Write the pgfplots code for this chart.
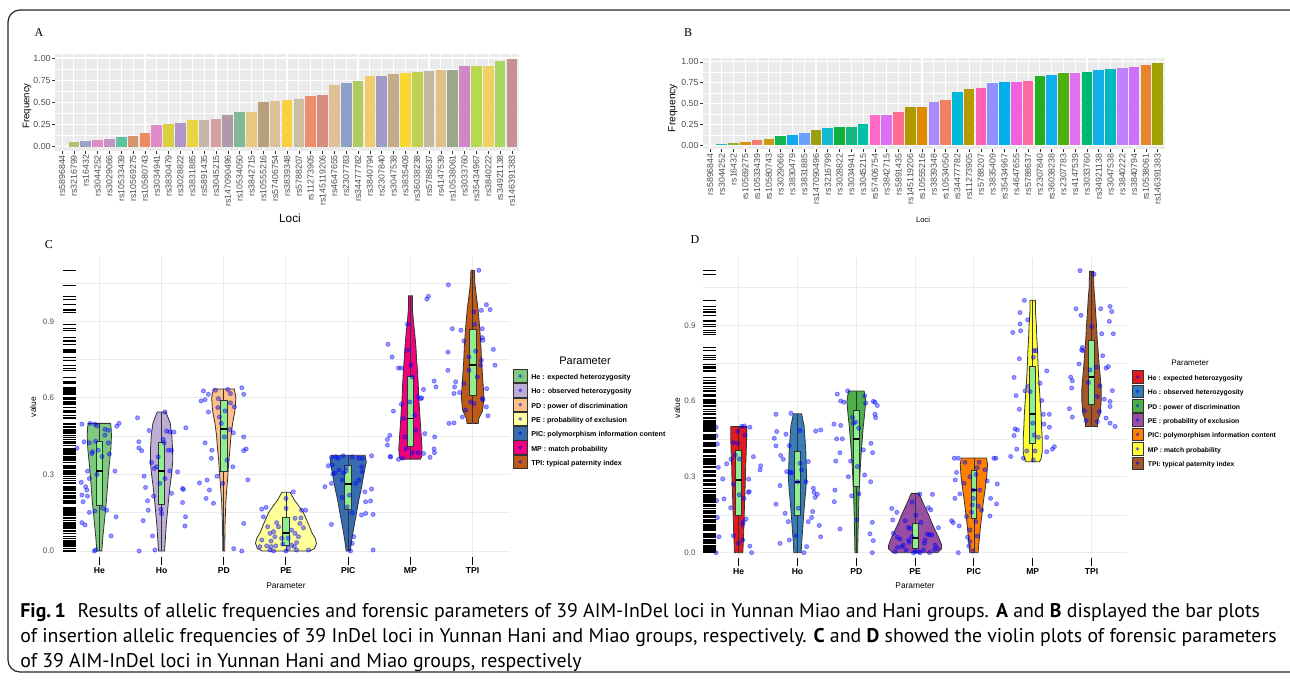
\documentclass[border=0pt]{standalone}
\usepackage{fontspec}
\setmainfont{Liberation Sans}
\newfontfamily\serif{Liberation Serif}
\newfontfamily\capfont{PT Sans}
\usepackage{pgfplots}
\usepackage{pgfplotstable}
\pgfplotsset{compat=1.18}
\usepgfplotslibrary{statistics}
\usetikzlibrary{plotmarks}

\newcommand\fs[1]{\fontsize{#1}{#1}\selectfont}

\definecolor{grey20}{HTML}{333333}
\definecolor{grey30}{HTML}{4D4D4D}
\definecolor{grey92}{HTML}{EBEBEB}
\definecolor{panelgrey}{HTML}{EBEBEB}
\definecolor{boxgreen}{HTML}{90EE90}
\definecolor{ptblue}{HTML}{0000FF}
% Accent palette (C)
\definecolor{accA}{HTML}{7FC97F}
\definecolor{accB}{HTML}{BEAED4}
\definecolor{accC}{HTML}{FDC086}
\definecolor{accD}{HTML}{FFFF99}
\definecolor{accE}{HTML}{386CB0}
\definecolor{accF}{HTML}{F0027F}
\definecolor{accG}{HTML}{BF5B17}
% Set1 palette (D)
\definecolor{setA}{HTML}{E41A1C}
\definecolor{setB}{HTML}{377EB8}
\definecolor{setC}{HTML}{4DAF4A}
\definecolor{setD}{HTML}{984EA3}
\definecolor{setE}{HTML}{FF7F00}
\definecolor{setF}{HTML}{FFFF33}
\definecolor{setG}{HTML}{A65628}
% bar colours, panel A
\definecolor{a2}{HTML}{B8C070}\definecolor{a3}{HTML}{9FA0C8}\definecolor{a4}{HTML}{E08BC0}
\definecolor{a5}{HTML}{C593C8}\definecolor{a6}{HTML}{5DC4A0}\definecolor{a7}{HTML}{D6956A}
\definecolor{a8}{HTML}{EE8A60}\definecolor{a9}{HTML}{E388C8}\definecolor{a10}{HTML}{D8D040}
\definecolor{a11}{HTML}{B294C8}\definecolor{a12}{HTML}{EAD540}\definecolor{a13}{HTML}{C4B8A8}
\definecolor{a14}{HTML}{D4A0A0}\definecolor{a15}{HTML}{B09AA8}\definecolor{a16}{HTML}{80B898}
\definecolor{a17}{HTML}{E8C880}\definecolor{a18}{HTML}{B8A07C}\definecolor{a19}{HTML}{DCC098}
\definecolor{a20}{HTML}{F8D040}\definecolor{a21}{HTML}{CCBEA0}\definecolor{a22}{HTML}{EE8C6C}
\definecolor{a23}{HTML}{D88C80}\definecolor{a24}{HTML}{E0C096}\definecolor{a25}{HTML}{8FA0C8}
\definecolor{a26}{HTML}{B0CC60}\definecolor{a27}{HTML}{F0CC6C}\definecolor{a28}{HTML}{A09CC8}
\definecolor{a29}{HTML}{C4AC88}\definecolor{a30}{HTML}{F8D830}\definecolor{a31}{HTML}{C0D050}
\definecolor{a32}{HTML}{C4B8A0}\definecolor{a33}{HTML}{E0C088}\definecolor{a34}{HTML}{98A888}
\definecolor{a35}{HTML}{D088C4}\definecolor{a36}{HTML}{B8D850}\definecolor{a37}{HTML}{F0D060}
\definecolor{a38}{HTML}{A8D860}\definecolor{a39}{HTML}{C89090}
% bar colours, panel B
\definecolor{b2}{HTML}{1CBDB0}\definecolor{b3}{HTML}{8BB22A}\definecolor{b4}{HTML}{D89000}
\definecolor{b5}{HTML}{F37B70}\definecolor{b6}{HTML}{CC9A10}\definecolor{b7}{HTML}{10B850}
\definecolor{b8}{HTML}{10A8F0}\definecolor{b9}{HTML}{6AA0FF}\definecolor{b10}{HTML}{9AA010}
\definecolor{b11}{HTML}{10B8D0}\definecolor{b12}{HTML}{10B040}\definecolor{b13}{HTML}{10B880}
\definecolor{b14}{HTML}{00C0A8}\definecolor{b15}{HTML}{FF68C8}\definecolor{b16}{HTML}{DC70F0}
\definecolor{b17}{HTML}{FF6C90}\definecolor{b18}{HTML}{B09A00}\definecolor{b19}{HTML}{E08A00}
\definecolor{b20}{HTML}{A88CFF}\definecolor{b21}{HTML}{F08060}\definecolor{b22}{HTML}{00B8D8}
\definecolor{b23}{HTML}{B89A00}\definecolor{b24}{HTML}{FF60B0}\definecolor{b25}{HTML}{9090FF}
\definecolor{b26}{HTML}{00B0F0}\definecolor{b27}{HTML}{F060E0}\definecolor{b28}{HTML}{FF6AA0}
\definecolor{b29}{HTML}{20B020}\definecolor{b30}{HTML}{10B0F0}\definecolor{b31}{HTML}{50B010}
\definecolor{b32}{HTML}{E070F0}\definecolor{b33}{HTML}{00B870}\definecolor{b34}{HTML}{10B0E8}
\definecolor{b35}{HTML}{00B8C0}\definecolor{b36}{HTML}{C080FF}\definecolor{b37}{HTML}{D070F8}
\definecolor{b38}{HTML}{E8842C}\definecolor{b39}{HTML}{A0A000}

\newcommand\bb[3]{\addplot[fill=#3, draw=none] coordinates {(#1,#2)};}

\pgfplotsset{
  barpanel/.style={
    scale only axis, anchor=south west,
    xmin=0.4, xmax=39.6, ymin=-0.05, ymax=1.045,
    ybar, bar width=0.9, bar shift=0pt,
    axis background/.style={fill=panelgrey},
    grid=both,
    xtick={1,...,39},
    ytick={0,0.25,0.5,0.75,1}, yticklabels={0.00,0.25,0.50,0.75,1.00},
    minor ytick={0.125,0.375,0.625,0.875},
    major grid style={draw=white, line width=0.55pt},
    minor grid style={draw=white, line width=0.28pt},
    axis line style={draw=none},
    tick align=outside, major tick length=1.4pt, minor tick length=0pt,
    tick style={draw=grey20, line width=0.3pt},
    xtick pos=left, ytick pos=left,
    x tick label style={rotate=90, anchor=east, font=\fs{4.4}, text=grey30, inner sep=0.4pt},
    y tick label style={font=\fs{4.4}, text=grey30, inner sep=0.6pt},
  },
  violinpanel/.style={
    scale only axis, anchor=south west,
    xmin=0.4, xmax=7.6,
    xtick={1,...,7}, xticklabels={He,Ho,PD,PE,PIC,MP,TPI},
    ytick={0,0.3,0.6,0.9}, yticklabels={0.0,0.3,0.6,0.9},
    minor ytick={0.15,0.45,0.75,1.05},
    grid=both,
    major grid style={draw=grey92, line width=0.5pt},
    minor grid style={draw=grey92, line width=0.3pt},
    axis line style={draw=none},
    tick align=outside, major tick length=3.75pt, minor tick length=0pt,
    xtick style={draw=black, line width=0.5pt},
    ytick style={draw=none},
    xtick pos=left, ytick pos=left,
    x tick label style={font=\bfseries\fs{4.3}, inner sep=0pt, yshift=-1.2pt},
    y tick label style={font=\fs{4}, text=grey30, inner sep=0pt},
    boxplot/draw direction=y,
    legend cell align=left,
  },
  vio/.style={draw=grey20, line width=0.4pt, forget plot},
  bxs/.style={forget plot, fill=boxgreen, draw=grey20, line width=0.4pt, solid,
    boxplot/whisker extend=0, boxplot/every median/.style={line width=0.9pt, draw=black}},
  bx/.style n args={6}{boxplot prepared={draw position=#1, lower whisker=#2,
    lower quartile=#3, median=#4, upper quartile=#5, upper whisker=#6}},
  jitpts/.style={only marks, mark=*, mark size=1.05pt, forget plot, color=ptblue,
    mark options={draw=none, fill=ptblue, opacity=0.4, solid}},
  rugmarks/.style={only marks, mark=-, mark size=#1, forget plot, color=black,
    mark options={draw=black, line width=0.25pt, solid}},
  ckey/.style={legend image code/.code={
    \draw[draw=grey20, fill=#1, line width=0.3pt] (0pt,-2.1pt) rectangle (7pt,4.65pt);
    \fill[ptblue, opacity=0.4] (3.5pt,1.28pt) circle (0.75pt);}},
  dkey/.style={legend image code/.code={
    \draw[draw=grey20, fill=#1, line width=0.3pt] (0pt,-1.95pt) rectangle (5.5pt,4.4pt);
    \fill[ptblue, opacity=0.4] (2.75pt,1.22pt) circle (0.7pt);}},
}

% violin outlines (half widths w at value y)
\pgfplotstableread[row sep=\\]{w y\\ 0 0\\ 0.04 0\\ 0.055 0.05\\ 0.075 0.1\\ 0.095 0.15\\ 0.115 0.2\\ 0.13 0.25\\ 0.145 0.3\\ 0.165 0.35\\ 0.185 0.4\\ 0.195 0.45\\ 0.19 0.48\\ 0.18 0.5\\ 0 0.5\\}\vCHe
\pgfplotstableread[row sep=\\]{w y\\ 0 0\\ 0.048 0\\ 0.062 0.05\\ 0.075 0.1\\ 0.094 0.15\\ 0.113 0.2\\ 0.134 0.25\\ 0.16 0.3\\ 0.18 0.35\\ 0.177 0.4\\ 0.166 0.45\\ 0.14 0.5\\ 0.07 0.545\\ 0 0.545\\}\vCHo
\pgfplotstableread[row sep=\\]{w y\\ 0 0\\ 0.015 0\\ 0.02 0.1\\ 0.035 0.2\\ 0.067 0.3\\ 0.08 0.35\\ 0.1 0.4\\ 0.115 0.45\\ 0.142 0.5\\ 0.18 0.55\\ 0.195 0.6\\ 0.17 0.635\\ 0 0.635\\}\vCPD
\pgfplotstableread[row sep=\\]{w y\\ 0 0\\ 0.38 0\\ 0.46 0.01\\ 0.49 0.03\\ 0.47 0.05\\ 0.42 0.07\\ 0.37 0.1\\ 0.335 0.12\\ 0.28 0.15\\ 0.225 0.17\\ 0.134 0.2\\ 0.067 0.23\\ 0 0.23\\}\vCPE
\pgfplotstableread[row sep=\\]{w y\\ 0 0\\ 0.032 0\\ 0.06 0.05\\ 0.096 0.1\\ 0.134 0.15\\ 0.17 0.2\\ 0.215 0.25\\ 0.25 0.3\\ 0.29 0.35\\ 0.27 0.375\\ 0 0.375\\}\vCPIC
\pgfplotstableread[row sep=\\]{w y\\ 0 0.36\\ 0.16 0.36\\ 0.18 0.37\\ 0.187 0.4\\ 0.174 0.45\\ 0.16 0.5\\ 0.147 0.55\\ 0.134 0.6\\ 0.126 0.65\\ 0.115 0.7\\ 0.1 0.75\\ 0.088 0.8\\ 0.07 0.85\\ 0.048 0.9\\ 0.032 0.95\\ 0.032 1.0\\ 0 1.0\\}\vCMP
\pgfplotstableread[row sep=\\]{w y\\ 0 0.5\\ 0.09 0.5\\ 0.1 0.52\\ 0.16 0.55\\ 0.182 0.6\\ 0.169 0.65\\ 0.155 0.7\\ 0.142 0.75\\ 0.134 0.8\\ 0.12 0.85\\ 0.104 0.9\\ 0.086 0.95\\ 0.059 1.0\\ 0.035 1.05\\ 0.027 1.1\\ 0 1.1\\}\vCTPI
\pgfplotstableread[row sep=\\]{w y\\ 0 0\\ 0.07 0\\ 0.08 0.05\\ 0.088 0.1\\ 0.094 0.15\\ 0.1 0.2\\ 0.108 0.25\\ 0.115 0.3\\ 0.12 0.35\\ 0.128 0.4\\ 0.135 0.45\\ 0.135 0.5\\ 0 0.5\\}\vDHe
\pgfplotstableread[row sep=\\]{w y\\ 0 0\\ 0.062 0\\ 0.074 0.05\\ 0.09 0.1\\ 0.105 0.15\\ 0.122 0.2\\ 0.142 0.25\\ 0.156 0.3\\ 0.147 0.35\\ 0.142 0.4\\ 0.128 0.45\\ 0.113 0.5\\ 0.07 0.55\\ 0 0.55\\}\vDHo
\pgfplotstableread[row sep=\\]{w y\\ 0 0\\ 0.023 0\\ 0.031 0.1\\ 0.042 0.2\\ 0.06 0.3\\ 0.071 0.35\\ 0.085 0.4\\ 0.102 0.45\\ 0.119 0.5\\ 0.142 0.55\\ 0.16 0.6\\ 0.133 0.64\\ 0 0.64\\}\vDPD
\pgfplotstableread[row sep=\\]{w y\\ 0 0\\ 0.38 0\\ 0.45 0.015\\ 0.45 0.03\\ 0.42 0.05\\ 0.38 0.07\\ 0.32 0.1\\ 0.28 0.12\\ 0.23 0.15\\ 0.19 0.17\\ 0.13 0.2\\ 0.065 0.235\\ 0 0.235\\}\vDPE
\pgfplotstableread[row sep=\\]{w y\\ 0 0\\ 0.07 0\\ 0.09 0.05\\ 0.11 0.1\\ 0.136 0.15\\ 0.16 0.2\\ 0.19 0.25\\ 0.218 0.3\\ 0.232 0.35\\ 0.215 0.375\\ 0 0.375\\}\vDPIC
\pgfplotstableread[row sep=\\]{w y\\ 0 0.36\\ 0.113 0.36\\ 0.14 0.37\\ 0.162 0.4\\ 0.162 0.45\\ 0.15 0.5\\ 0.142 0.55\\ 0.128 0.6\\ 0.113 0.65\\ 0.1 0.7\\ 0.09 0.75\\ 0.082 0.8\\ 0.07 0.85\\ 0.062 0.9\\ 0.048 0.95\\ 0.045 1.0\\ 0 1.0\\}\vDMP
\pgfplotstableread[row sep=\\]{w y\\ 0 0.5\\ 0.1 0.5\\ 0.1 0.52\\ 0.147 0.55\\ 0.164 0.6\\ 0.164 0.65\\ 0.147 0.7\\ 0.128 0.75\\ 0.113 0.8\\ 0.096 0.85\\ 0.085 0.9\\ 0.07 0.95\\ 0.057 1.0\\ 0.04 1.05\\ 0.034 1.114\\ 0 1.114\\}\vDTPI

% jittered points: group g, offset o, value v
\pgfplotstableread[row sep=\\]{g o v\\
1 -0.28 0.497\\ 1 -0.15 0.50\\ 1 -0.07 0.497\\ 1 -0.04 0.49\\ 1 0.09 0.477\\ 1 0.145 0.473\\ 1 0.28 0.489\\ 1 0.316 0.50\\
1 -0.246 0.428\\ 1 -0.16 0.424\\ 1 -0.06 0.43\\ 1 -0.11 0.389\\ 1 -0.12 0.382\\ 1 -0.016 0.395\\ 1 0.145 0.424\\ 1 0.16 0.38\\
1 -0.36 0.403\\ 1 -0.19 0.313\\ 1 0.25 0.313\\ 1 -0.29 0.269\\ 1 -0.16 0.284\\ 1 -0.04 0.30\\ 1 -0.22 0.252\\ 1 -0.2 0.239\\
1 -0.28 0.219\\ 1 -0.19 0.215\\ 1 -0.26 0.193\\ 1 -0.07 0.157\\ 1 -0.16 0.151\\ 1 0.054 0.167\\ 1 0.118 0.16\\ 1 0.27 0.134\\
1 -0.28 0.111\\ 1 -0.23 0.102\\ 1 0.19 0.059\\ 1 -0.08 0.0\\ 1 -0.06 0.004\\ 1 0.09 0.454\\ 1 0.04 0.37\\
2 -0.386 0.522\\ 2 0.054 0.545\\ 2 -0.2 0.472\\ 2 0.08 0.47\\ 2 0.134 0.467\\ 2 0.2 0.466\\ 2 0.39 0.483\\ 2 -0.365 0.428\\
2 -0.365 0.404\\ 2 -0.32 0.393\\ 2 0.027 0.438\\ 2 0.043 0.424\\ 2 -0.054 0.369\\ 2 -0.16 0.347\\ 2 -0.118 0.323\\ 2 -0.08 0.33\\
2 0.134 0.314\\ 2 0.257 0.31\\ 2 -0.28 0.293\\ 2 -0.257 0.249\\ 2 -0.128 0.215\\ 2 0.338 0.245\\ 2 0.35 0.241\\ 2 0.16 0.226\\
2 -0.225 0.197\\ 2 0.338 0.19\\ 2 -0.214 0.16\\ 2 0 0.147\\ 2 -0.01 0.163\\ 2 0.386 0.134\\ 2 -0.295 0.119\\ 2 0.375 0.098\\
2 -0.145 0.059\\ 2 -0.36 0\\ 2 -0.107 0.004\\ 2 0.054 0.284\\ 2 0.107 0.395\\ 2 0.16 0.395\\ 2 -0.027 0.265\\
3 -0.327 0.627\\ 3 -0.247 0.614\\ 3 -0.364 0.588\\ 3 -0.3 0.593\\ 3 0.29 0.64\\ 3 0.32 0.614\\ 3 -0.134 0.63\\ 3 0.064 0.633\\
3 0.107 0.617\\ 3 -0.096 0.562\\ 3 -0.086 0.597\\ 3 0.02 0.549\\ 3 0.107 0.58\\ 3 -0.247 0.545\\ 3 0.1 0.476\\ 3 0.155 0.463\\
3 -0.3 0.424\\ 3 -0.193 0.395\\ 3 -0.2 0.363\\ 3 0.32 0.447\\ 3 0.36 0.4\\ 3 0.32 0.393\\ 3 0.054 0.356\\ 3 0.145 0.33\\
3 -0.107 0.293\\ 3 -0.268 0.278\\ 3 -0.39 0.267\\ 3 0.386 0.279\\ 3 -0.23 0.239\\ 3 -0.284 0.206\\ 3 -0.166 0.187\\ 3 0.32 0.108\\
3 0.16 0.009\\ 3 0.29 0\\ 3 0.01 0.447\\ 3 -0.04 0.5\\ 3 -0.07 0.525\\ 3 0.17 0.565\\ 3 -0.016 0.265\\
4 0.118 0.232\\ 4 -0.39 0.164\\ 4 -0.32 0.171\\ 4 0.25 0.16\\ 4 0.316 0.16\\ 4 -0.364 0.134\\ 4 -0.295 0.095\\ 4 -0.15 0.111\\
4 0.145 0.128\\ 4 0.24 0.13\\ 4 0.225 0.108\\ 4 0.28 0.091\\ 4 -0.257 0.069\\ 4 -0.2 0.076\\ 4 0.09 0.082\\ 4 0.145 0.069\\
4 -0.39 0.043\\ 4 -0.24 0.039\\ 4 -0.07 0.05\\ 4 0.037 0.05\\ 4 0.17 0.033\\ 4 -0.31 0.02\\ 4 -0.24 0.017\\ 4 -0.166 0.02\\
4 -0.054 0.027\\ 4 0.09 0.023\\ 4 0.134 0.017\\ 4 -0.257 0.004\\ 4 -0.2 0\\ 4 0 0\\ 4 0.037 0.01\\ 4 0.17 0.004\\
4 0 0.167\\ 4 0 0.206\\ 4 -0.12 0.095\\ 4 -0.42 0.017\\ 4 0.36 0.004\\ 4 -0.18 0.056\\ 4 0.2 0.056\\
5 -0.27 0.367\\ 5 -0.2 0.369\\ 5 -0.16 0.363\\ 5 -0.08 0.373\\ 5 0.064 0.369\\ 5 0.17 0.364\\ 5 0.225 0.363\\ 5 0.375 0.373\\
5 -0.32 0.334\\ 5 -0.257 0.337\\ 5 -0.032 0.327\\ 5 0.214 0.33\\ 5 -0.247 0.301\\ 5 -0.214 0.306\\ 5 -0.07 0.306\\ 5 -0.032 0.314\\
5 0.225 0.31\\ 5 -0.375 0.252\\ 5 -0.27 0.265\\ 5 0.268 0.232\\ 5 0.375 0.243\\ 5 -0.096 0.21\\ 5 0.02 0.219\\ 5 0.28 0.193\\
5 0.36 0.196\\ 5 0.064 0.15\\ 5 0.214 0.141\\ 5 0.28 0.147\\ 5 0.4 0.143\\ 5 -0.27 0.104\\ 5 0.09 0.056\\ 5 0.064 0.03\\
5 0.037 0\\ 5 0.4 0.004\\ 5 -0.096 0.278\\ 5 0.118 0.265\\ 5 -0.016 0.173\\ 5 0.17 0.278\\ 5 -0.15 0.317\\
6 0.29 0.998\\ 6 0.263 0.987\\ 6 -0.048 0.888\\ 6 -0.36 0.81\\ 6 -0.295 0.76\\ 6 -0.193 0.717\\ 6 -0.15 0.717\\ 6 0.005 0.728\\
6 0.38 0.666\\ 6 0.41 0.643\\ 6 0.21 0.633\\ 6 0.118 0.604\\ 6 0.166 0.597\\ 6 0.182 0.6\\ 6 -0.145 0.575\\ 6 -0.273 0.548\\
6 -0.113 0.519\\ 6 0.07 0.532\\ 6 -0.01 0.584\\ 6 -0.37 0.437\\ 6 -0.332 0.453\\ 6 -0.37 0.415\\ 6 0.23 0.46\\ 6 0.39 0.447\\
6 0.38 0.4\\ 6 0.386 0.385\\ 6 -0.327 0.37\\ 6 -0.316 0.369\\ 6 -0.193 0.359\\ 6 -0.128 0.364\\ 6 0.032 0.385\\ 6 0.123 0.385\\
6 0.21 0.382\\ 6 0.316 0.367\\ 6 -0.064 0.4\\ 6 0.032 0.682\\ 6 -0.048 0.787\\ 6 0.086 0.473\\ 6 -0.086 0.447\\
7 0.1 1.1\\ 7 -0.39 1.043\\ 7 0.22 0.965\\ 7 0.28 0.946\\ 7 0.14 0.943\\ 7 0.02 0.937\\ 7 -0.327 0.871\\ 7 -0.188 0.865\\
7 0.155 0.871\\ 7 0.032 0.888\\ 7 0.155 0.836\\ 7 0.166 0.826\\ 7 -0.14 0.823\\ 7 0.332 0.79\\ 7 -0.397 0.779\\ 7 -0.059 0.76\\
7 0.14 0.747\\ 7 0.128 0.728\\ 7 0.36 0.728\\ 7 -0.397 0.708\\ 7 -0.273 0.663\\ 7 -0.29 0.643\\ 7 -0.14 0.656\\ 7 -0.21 0.621\\
7 -0.3 0.617\\ 7 0.225 0.636\\ 7 0.155 0.597\\ 7 0.166 0.593\\ 7 -0.032 0.584\\ 7 0.02 0.578\\ 7 0.22 0.565\\ 7 -0.113 0.552\\
7 0.246 0.53\\ 7 -0.38 0.5\\ 7 -0.3 0.502\\ 7 0.048 0.783\\ 7 -0.059 0.708\\ 7 0.075 0.682\\ 7 -0.166 0.525\\
}\dotsC

\pgfplotstableread[row sep=\\]{g o v\\
1 0.05 0.5\\ 1 0.096 0.502\\ 1 0.19 0.497\\ 1 -0.385 0.497\\ 1 -0.017 0.48\\ 1 0.108 0.466\\ 1 -0.385 0.463\\ 1 -0.09 0.436\\
1 -0.363 0.43\\ 1 0.25 0.38\\ 1 0.01 0.371\\ 1 -0.062 0.387\\ 1 -0.13 0.37\\ 1 -0.204 0.352\\ 1 -0.346 0.338\\ 1 0.374 0.344\\
1 0.363 0.328\\ 1 -0.272 0.292\\ 1 0.17 0.291\\ 1 -0.09 0.271\\ 1 0.18 0.242\\ 1 0.164 0.239\\ 1 -0.25 0.213\\ 1 0.09 0.215\\
1 0.01 0.229\\ 1 -0.374 0.206\\ 1 -0.136 0.178\\ 1 -0.363 0.139\\ 1 0.125 0.133\\ 1 0.08 0.123\\ 1 0.068 0.112\\ 1 -0.09 0.067\\
1 -0.335 0.063\\ 1 0.068 0.05\\ 1 -0.005 0.037\\ 1 0.19 0.026\\ 1 0.22 0\\ 1 -0.385 0\\ 1 -0.02 0.433\\
2 -0.366 0.548\\ 2 -0.11 0.552\\ 2 -0.354 0.48\\ 2 -0.196 0.469\\ 2 0.043 0.484\\ 2 0.31 0.482\\ 2 0.394 0.486\\ 2 -0.394 0.453\\
2 -0.366 0.423\\ 2 -0.139 0.424\\ 2 -0.286 0.385\\ 2 -0.241 0.37\\ 2 0.184 0.361\\ 2 -0.184 0.321\\ 2 -0.1 0.317\\ 2 -0.127 0.318\\
2 0.07 0.328\\ 2 0 0.281\\ 2 0.145 0.281\\ 2 -0.298 0.266\\ 2 0.27 0.255\\ 2 0.28 0.239\\ 2 0.337 0.231\\ 2 0.3 0.219\\
2 -0.366 0.192\\ 2 0.014 0.176\\ 2 0.258 0.163\\ 2 -0.156 0.123\\ 2 0.24 0.139\\ 2 0.184 0.123\\ 2 0.37 0.108\\ 2 -0.026 0.067\\
2 0.394 0.063\\ 2 -0.139 0.05\\ 2 -0.298 0.037\\ 2 0.156 0.024\\ 2 0.11 0\\ 2 0.043 0.354\\ 2 -0.21 0.156\\
3 -0.323 0.628\\ 3 -0.147 0.641\\ 3 -0.266 0.601\\ 3 -0.21 0.596\\ 3 0.142 0.621\\ 3 0.159 0.592\\ 3 0.29 0.599\\ 3 0.318 0.596\\
3 0.357 0.583\\ 3 0.318 0.548\\ 3 0.329 0.535\\ 3 -0.062 0.535\\ 3 -0.011 0.517\\ 3 -0.38 0.509\\ 3 -0.266 0.504\\ 3 -0.334 0.451\\
3 -0.238 0.451\\ 3 0.04 0.493\\ 3 0.25 0.433\\ 3 -0.278 0.396\\ 3 0.278 0.396\\ 3 -0.351 0.363\\ 3 -0.096 0.363\\ 3 0.017 0.341\\
3 0.142 0.308\\ 3 0.244 0.281\\ 3 -0.363 0.248\\ 3 -0.08 0.225\\ 3 0.045 0.233\\ 3 -0.374 0.202\\ 3 0.011 0.13\\ 3 0.272 0.12\\
3 -0.278 0.094\\ 3 0.232 0.075\\ 3 0.289 0.048\\ 3 0.272 0\\ 3 -0.05 0.513\\ 3 0.12 0.407\\ 3 -0.136 0.301\\
4 -0.397 0.175\\ 4 -0.31 0.16\\ 4 -0.38 0.13\\ 4 -0.37 0.077\\ 4 -0.255 0.054\\ 4 -0.3 0.021\\ 4 -0.227 0.024\\ 4 -0.153 0.011\\
4 -0.2 0.03\\ 4 -0.1 0.041\\ 4 -0.113 0.1\\ 4 -0.085 0.096\\ 4 0.011 0.149\\ 4 0.08 0.232\\ 4 0.295 0.231\\ 4 0.227 0.178\\
4 0.266 0.17\\ 4 0.21 0.073\\ 4 0.244 0.071\\ 4 0.283 0.07\\ 4 0.159 0.037\\ 4 0.17 0.05\\ 4 0.34 0.03\\ 4 0.38 0.017\\
4 0 0.004\\ 4 0.085 0\\ 4 0.244 0\\ 4 -0.028 0\\ 4 -0.17 0.127\\ 4 0.397 0.099\\ 4 0.142 0.011\\ 4 -0.34 0.004\\
4 -0.11 0.05\\ 4 -0.3 0.061\\ 4 -0.057 0.063\\ 4 0.33 0.013\\ 4 0.057 0.004\\ 4 0.1 0.12\\ 4 -0.05 0.2\\
5 -0.334 0.374\\ 5 -0.266 0.374\\ 5 -0.153 0.358\\ 5 0.09 0.358\\ 5 0.34 0.374\\ 5 0.374 0.374\\ 5 -0.295 0.318\\ 5 -0.317 0.288\\
5 -0.068 0.301\\ 5 0.057 0.337\\ 5 0.034 0.31\\ 5 0.227 0.284\\ 5 0.397 0.272\\ 5 -0.238 0.233\\ 5 -0.323 0.215\\ 5 -0.011 0.215\\
5 0.283 0.215\\ 5 -0.028 0.189\\ 5 0.074 0.185\\ 5 0.385 0.193\\ 5 -0.04 0.16\\ 5 0.272 0.145\\ 5 -0.38 0.127\\ 5 -0.351 0.119\\
5 -0.25 0.106\\ 5 0.034 0.123\\ 5 -0.068 0.09\\ 5 -0.108 0.061\\ 5 0.057 0.066\\ 5 -0.068 0.044\\ 5 -0.085 0.026\\ 5 -0.266 0\\
5 -0.023 0.008\\ 5 -0.17 0.275\\ 5 -0.011 0.248\\ 5 0.1 0.248\\ 5 0.13 0.169\\ 5 -0.125 0.143\\ 5 0.187 0.328\\
6 -0.142 0.999\\ 6 -0.215 0.951\\ 6 -0.085 0.922\\ 6 -0.215 0.906\\ 6 -0.204 0.879\\ 6 -0.34 0.872\\ 6 -0.227 0.768\\ 6 0.023 0.8\\
6 0.051 0.8\\ 6 0.011 0.774\\ 6 -0.317 0.694\\ 6 0.238 0.72\\ 6 -0.283 0.622\\ 6 -0.085 0.658\\ 6 -0.045 0.638\\ 6 -0.13 0.641\\
6 0.153 0.603\\ 6 -0.227 0.568\\ 6 0.181 0.548\\ 6 0.283 0.548\\ 6 0.193 0.509\\ 6 0.283 0.497\\ 6 -0.3 0.49\\ 6 -0.26 0.486\\
6 -0.317 0.464\\ 6 0.096 0.457\\ 6 0.238 0.457\\ 6 0.023 0.466\\ 6 -0.272 0.41\\ 6 -0.102 0.403\\ 6 0.04 0.403\\ 6 0.238 0.4\\
6 0.334 0.41\\ 6 0.368 0.42\\ 6 -0.374 0.381\\ 6 -0.159 0.374\\ 6 0.011 0.367\\ 6 0 0.513\\ 6 0.125 0.671\\
7 -0.196 1.117\\ 7 0.043 1.103\\ 7 -0.264 0.966\\ 7 0.156 0.966\\ 7 0.315 0.975\\ 7 0.343 0.955\\ 7 -0.179 0.94\\ 7 0.303 0.916\\
7 0.371 0.867\\ 7 0.173 0.867\\ 7 -0.156 0.813\\ 7 -0.15 0.8\\ 7 -0.167 0.803\\ 7 0.19 0.78\\ 7 -0.213 0.747\\ 7 0.077 0.735\\
7 0.247 0.731\\ 7 0.286 0.737\\ 7 -0.354 0.695\\ 7 -0.326 0.681\\ 7 -0.054 0.674\\ 7 0.145 0.661\\ 7 -0.337 0.652\\ 7 0.354 0.642\\
7 0.1 0.618\\ 7 0.218 0.608\\ 7 0.315 0.599\\ 7 0.315 0.579\\ 7 -0.377 0.57\\ 7 -0.122 0.562\\ 7 0.133 0.559\\ 7 -0.326 0.537\\
7 0.247 0.533\\ 7 -0.094 0.523\\ 7 0.1 0.519\\ 7 0.315 0.513\\ 7 0.4 0.5\\ 7 0 0.896\\ 7 -0.026 0.724\\
}\dotsD

\begin{document}
\begin{tikzpicture}
\path[use as bounding box] (0pt,0pt) rectangle (645pt,340.5pt);
\draw[line width=0.6pt, draw=black!85, rounded corners=6pt] (4pt,4.5pt) rectangle (651pt,335.5pt);

% ---------------- A ----------------
\begin{axis}[barpanel, at={(27.5pt,264.95pt)}, width=232pt, height=48.55pt,
  xticklabels={rs5896844,rs3216799,rs16432,rs3044252,rs3029066,rs10533439,rs10569275,rs10580743,rs3034941,rs3830479,rs3028822,rs3831885,rs5891435,rs3045215,rs147090496,rs10534050,rs3842715,rs10555216,rs57406754,rs3839348,rs5788207,rs11273905,rs145119206,rs4647655,rs2307783,rs34477782,rs3840794,rs2307840,rs3047538,rs3835409,rs36038238,rs5788637,rs4147539,rs10538061,rs3033760,rs35434967,rs3840222,rs34921138,rs146391383}]
\bb{2}{0.05}{a2}\bb{3}{0.06}{a3}\bb{4}{0.07}{a4}\bb{5}{0.09}{a5}\bb{6}{0.11}{a6}
\bb{7}{0.12}{a7}\bb{8}{0.15}{a8}\bb{9}{0.24}{a9}\bb{10}{0.26}{a10}\bb{11}{0.27}{a11}
\bb{12}{0.30}{a12}\bb{13}{0.30}{a13}\bb{14}{0.31}{a14}\bb{15}{0.36}{a15}\bb{16}{0.39}{a16}
\bb{17}{0.39}{a17}\bb{18}{0.50}{a18}\bb{19}{0.52}{a19}\bb{20}{0.53}{a20}\bb{21}{0.54}{a21}
\bb{22}{0.57}{a22}\bb{23}{0.58}{a23}\bb{24}{0.69}{a24}\bb{25}{0.72}{a25}\bb{26}{0.74}{a26}
\bb{27}{0.80}{a27}\bb{28}{0.80}{a28}\bb{29}{0.82}{a29}\bb{30}{0.83}{a30}\bb{31}{0.84}{a31}
\bb{32}{0.85}{a32}\bb{33}{0.86}{a33}\bb{34}{0.87}{a34}\bb{35}{0.91}{a35}\bb{36}{0.91}{a36}
\bb{37}{0.91}{a37}\bb{38}{0.97}{a38}\bb{39}{0.99}{a39}
\end{axis}

% ---------------- B ----------------
\begin{axis}[barpanel, at={(351.45pt,265.75pt)}, width=230.9pt, height=45.65pt,
  xticklabels={rs5896844,rs3044252,rs16432,rs10569275,rs10533439,rs10580743,rs3029066,rs3830479,rs3831885,rs147090496,rs3216799,rs3028822,rs3034941,rs3045215,rs57406754,rs3842715,rs5891435,rs145119206,rs10555216,rs3839348,rs10534050,rs34477782,rs11273905,rs5788207,rs3835409,rs35434967,rs4647655,rs5788637,rs2307840,rs36038238,rs2307783,rs4147539,rs3033760,rs34921138,rs3047538,rs3840222,rs3840794,rs10538061,rs146391383}]
\bb{2}{0.02}{b2}\bb{3}{0.024}{b3}\bb{4}{0.036}{b4}\bb{5}{0.068}{b5}\bb{6}{0.076}{b6}
\bb{7}{0.116}{b7}\bb{8}{0.124}{b8}\bb{9}{0.144}{b9}\bb{10}{0.18}{b10}\bb{11}{0.204}{b11}
\bb{12}{0.216}{b12}\bb{13}{0.22}{b13}\bb{14}{0.26}{b14}\bb{15}{0.368}{b15}\bb{16}{0.368}{b16}
\bb{17}{0.404}{b17}\bb{18}{0.456}{b18}\bb{19}{0.464}{b19}\bb{20}{0.524}{b20}\bb{21}{0.544}{b21}
\bb{22}{0.636}{b22}\bb{23}{0.68}{b23}\bb{24}{0.692}{b24}\bb{25}{0.748}{b25}\bb{26}{0.756}{b26}
\bb{27}{0.756}{b27}\bb{28}{0.776}{b28}\bb{29}{0.828}{b29}\bb{30}{0.84}{b30}\bb{31}{0.864}{b31}
\bb{32}{0.868}{b32}\bb{33}{0.876}{b33}\bb{34}{0.904}{b34}\bb{35}{0.916}{b35}\bb{36}{0.928}{b36}
\bb{37}{0.94}{b37}\bb{38}{0.968}{b38}\bb{39}{0.992}{b39}
\end{axis}

% ---------------- C ----------------
\begin{axis}[violinpanel, at={(31pt,62pt)}, width=224pt, height=150pt,
  ymin=-0.0235, ymax=1.152,
  legend style={at={(1.0067,0.6267)}, anchor=north west, draw=none, fill=none,
    inner sep=0pt, outer sep=0pt, row sep=0.1pt,
    nodes={inner sep=0pt, font=\bfseries\fs{3.56}},
    /tikz/every odd column/.append style={column sep=1.85pt}}]
\addplot[vio, fill=accA] table[x expr=1+\thisrow{w}, y=y] {\vCHe};
\addplot[vio, fill=accA] table[x expr=1-\thisrow{w}, y=y] {\vCHe};
\addplot[vio, fill=accB] table[x expr=2+\thisrow{w}, y=y] {\vCHo};
\addplot[vio, fill=accB] table[x expr=2-\thisrow{w}, y=y] {\vCHo};
\addplot[vio, fill=accC] table[x expr=3+\thisrow{w}, y=y] {\vCPD};
\addplot[vio, fill=accC] table[x expr=3-\thisrow{w}, y=y] {\vCPD};
\addplot[vio, fill=accD] table[x expr=4+\thisrow{w}, y=y] {\vCPE};
\addplot[vio, fill=accD] table[x expr=4-\thisrow{w}, y=y] {\vCPE};
\addplot[vio, fill=accE] table[x expr=5+\thisrow{w}, y=y] {\vCPIC};
\addplot[vio, fill=accE] table[x expr=5-\thisrow{w}, y=y] {\vCPIC};
\addplot[vio, fill=accF] table[x expr=6+\thisrow{w}, y=y] {\vCMP};
\addplot[vio, fill=accF] table[x expr=6-\thisrow{w}, y=y] {\vCMP};
\addplot[vio, fill=accG] table[x expr=7+\thisrow{w}, y=y] {\vCTPI};
\addplot[vio, fill=accG] table[x expr=7-\thisrow{w}, y=y] {\vCTPI};
\addplot[bxs, boxplot/box extend=0.107, bx={1}{0}{0.177}{0.313}{0.428}{0.5}] coordinates {};
\addplot[bxs, boxplot/box extend=0.107, bx={2}{0}{0.183}{0.313}{0.424}{0.545}] coordinates {};
\addplot[bxs, boxplot/box extend=0.107, bx={3}{0}{0.313}{0.477}{0.59}{0.635}] coordinates {};
\addplot[bxs, boxplot/box extend=0.107, bx={4}{0}{0.023}{0.069}{0.13}{0.23}] coordinates {};
\addplot[bxs, boxplot/box extend=0.107, bx={5}{0}{0.163}{0.262}{0.334}{0.375}] coordinates {};
\addplot[bxs, boxplot/box extend=0.107, bx={6}{0.36}{0.408}{0.519}{0.685}{1.0}] coordinates {};
\addplot[bxs, boxplot/box extend=0.107, bx={7}{0.5}{0.61}{0.728}{0.867}{1.1}] coordinates {};
\addplot[jitpts] table[x expr=\thisrow{g}+\thisrow{o}, y=v] {\dotsC};
\addplot[rugmarks=3.3pt] table[x expr=0.518, y=v] {\dotsC};
\addlegendimage{ckey=accA}\addlegendentry{He : expected heterozygosity}
\addlegendimage{ckey=accB}\addlegendentry{Ho : observed heterozygosity}
\addlegendimage{ckey=accC}\addlegendentry{PD : power of discrimination}
\addlegendimage{ckey=accD}\addlegendentry{PE : probability of exclusion}
\addlegendimage{ckey=accE}\addlegendentry{PIC: polymorphism information content}
\addlegendimage{ckey=accF}\addlegendentry{MP : match probability}
\addlegendimage{ckey=accG}\addlegendentry{TPI: typical paternity index}
\end{axis}

% ---------------- D ----------------
\begin{axis}[violinpanel, at={(351.7pt,61.5pt)}, width=211.7pt, height=150pt,
  ymin=-0.021, ymax=1.167,
  legend style={at={(1.0116,0.6255)}, anchor=north west, draw=none, fill=none,
    inner sep=0pt, outer sep=0pt, row sep=0.53pt,
    nodes={inner sep=0pt, font=\bfseries\fs{3.4}},
    /tikz/every odd column/.append style={column sep=2.3pt}}]
\addplot[vio, fill=setA] table[x expr=1+\thisrow{w}, y=y] {\vDHe};
\addplot[vio, fill=setA] table[x expr=1-\thisrow{w}, y=y] {\vDHe};
\addplot[vio, fill=setB] table[x expr=2+\thisrow{w}, y=y] {\vDHo};
\addplot[vio, fill=setB] table[x expr=2-\thisrow{w}, y=y] {\vDHo};
\addplot[vio, fill=setC] table[x expr=3+\thisrow{w}, y=y] {\vDPD};
\addplot[vio, fill=setC] table[x expr=3-\thisrow{w}, y=y] {\vDPD};
\addplot[vio, fill=setD] table[x expr=4+\thisrow{w}, y=y] {\vDPE};
\addplot[vio, fill=setD] table[x expr=4-\thisrow{w}, y=y] {\vDPE};
\addplot[vio, fill=setE] table[x expr=5+\thisrow{w}, y=y] {\vDPIC};
\addplot[vio, fill=setE] table[x expr=5-\thisrow{w}, y=y] {\vDPIC};
\addplot[vio, fill=setF] table[x expr=6+\thisrow{w}, y=y] {\vDMP};
\addplot[vio, fill=setF] table[x expr=6-\thisrow{w}, y=y] {\vDMP};
\addplot[vio, fill=setG] table[x expr=7+\thisrow{w}, y=y] {\vDTPI};
\addplot[vio, fill=setG] table[x expr=7-\thisrow{w}, y=y] {\vDTPI};
\addplot[bxs, boxplot/box extend=0.096, bx={1}{0}{0.147}{0.288}{0.407}{0.5}] coordinates {};
\addplot[bxs, boxplot/box extend=0.096, bx={2}{0}{0.149}{0.281}{0.403}{0.55}] coordinates {};
\addplot[bxs, boxplot/box extend=0.096, bx={3}{0}{0.262}{0.451}{0.564}{0.64}] coordinates {};
\addplot[bxs, boxplot/box extend=0.096, bx={4}{0}{0.017}{0.057}{0.115}{0.235}] coordinates {};
\addplot[bxs, boxplot/box extend=0.096, bx={5}{0}{0.136}{0.248}{0.324}{0.375}] coordinates {};
\addplot[bxs, boxplot/box extend=0.096, bx={6}{0.36}{0.433}{0.55}{0.736}{1.0}] coordinates {};
\addplot[bxs, boxplot/box extend=0.096, bx={7}{0.5}{0.588}{0.695}{0.839}{1.114}] coordinates {};
\addplot[jitpts] table[x expr=\thisrow{g}+\thisrow{o}, y=v] {\dotsD};
\addplot[rugmarks=3.17pt] table[x expr=0.507, y=v] {\dotsD};
\addlegendimage{dkey=setA}\addlegendentry{He : expected heterozygosity}
\addlegendimage{dkey=setB}\addlegendentry{Ho : observed heterozygosity}
\addlegendimage{dkey=setC}\addlegendentry{PD : power of discrimination}
\addlegendimage{dkey=setD}\addlegendentry{PE : probability of exclusion}
\addlegendimage{dkey=setE}\addlegendentry{PIC: polymorphism information content}
\addlegendimage{dkey=setF}\addlegendentry{MP : match probability}
\addlegendimage{dkey=setG}\addlegendentry{TPI: typical paternity index}
\end{axis}

% ---------------- titles and labels ----------------
\node[font=\serif\fs{6}] at (19.5pt,324pt) {A};
\node[font=\serif\fs{6}] at (344pt,324pt) {B};
\node[font=\serif\fs{6}] at (24.5pt,218pt) {C};
\node[font=\serif\fs{6}] at (347.5pt,220.5pt) {D};
\node[font=\fs{4.8}, rotate=90] at (13.5pt,287.5pt) {Frequency};
\node[font=\fs{5.1}, rotate=90] at (336.5pt,286.5pt) {Frequency};
\node[font=\fs{5.9}] at (145pt,231.5pt) {Loci};
\node[font=\fs{3.8}] at (461.5pt,230.5pt) {Loci};
\node[font=\fs{4.2}, rotate=90] at (16.5pt,137pt) {value};
\node[font=\fs{4.2}, rotate=90] at (338.5pt,136.5pt) {value};
\node[font=\fs{4.2}] at (143pt,47.65pt) {Parameter};
\node[font=\fs{4.2}] at (457.5pt,47.5pt) {Parameter};
\node[font=\fs{5.5}] at (292.5pt,160pt) {Parameter};
\node[font=\fs{4}] at (595pt,159pt) {Parameter};

% ---------------- caption ----------------
\node[anchor=base west, inner sep=0pt, font=\capfont\fs{9.9}] at (10pt,32pt)
  {\textbf{Fig.\,1}\hspace{0.6em}Results of allelic frequencies and forensic parameters of 39 AIM-InDel loci in Yunnan Miao and Hani groups. \textbf{A} and \textbf{B} displayed the bar plots};
\node[anchor=base west, inner sep=0pt, font=\capfont\fs{9.9}] at (10pt,19.5pt)
  {of insertion allelic frequencies of 39 InDel loci in Yunnan Hani and Miao groups, respectively. \textbf{C} and \textbf{D} showed the violin plots of forensic parameters};
\node[anchor=base west, inner sep=0pt, font=\capfont\fs{9.9}] at (10pt,7pt)
  {of 39 AIM-InDel loci in Yunnan Hani and Miao groups, respectively};
\end{tikzpicture}
\end{document}
